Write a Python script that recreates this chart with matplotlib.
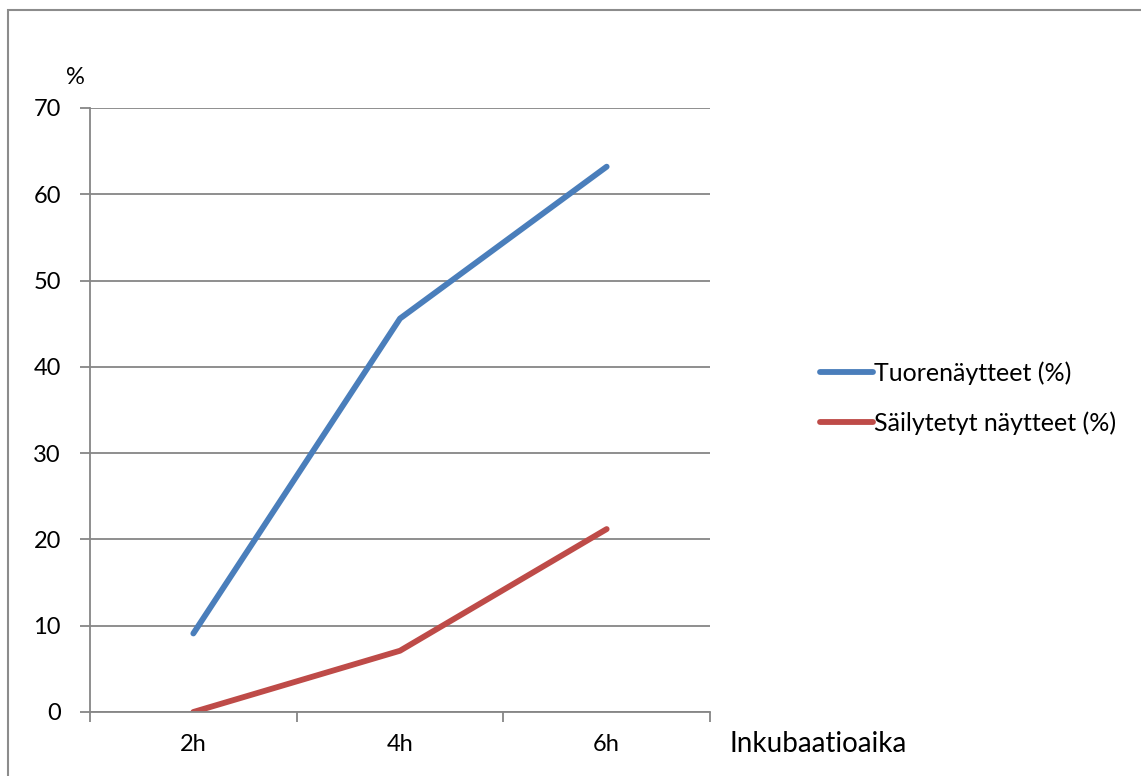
import matplotlib.pyplot as plt
from matplotlib.patches import Rectangle

plt.rcParams['font.family'] = ['Lato', 'DejaVu Sans']

times = ['2h', '4h', '6h']
fresh = [9.1, 45.6, 63.2]
stored = [0.0, 7.1, 21.2]

W, H = 1141, 776
fig = plt.figure(figsize=(W / 100, H / 100), dpi=100)

# outer chart frame
fig.patches.append(Rectangle((8 / W, -0.1), 1.2, (H - 10) / H + 0.1, transform=fig.transFigure,
                             fill=False, edgecolor='#8c8c8c', linewidth=1.5))

ax = fig.add_axes([90 / W, (H - 712) / H, 620 / W, 604 / H])
x = range(len(times))
ax.plot(x, fresh, color='#4a7ebb', linewidth=4.2, solid_capstyle='round', label='Tuorenäytteet (%)')
ax.plot(x, stored, color='#be4b48', linewidth=4.2, solid_capstyle='round', label='Säilytetyt näytteet (%)')

ax.set_xlim(-0.5, 2.5)
ax.set_ylim(0, 70)
ax.set_yticks(range(0, 71, 10))
ax.set_xticks(list(x))
ax.set_xticklabels(times)
ax.set_xticks([-0.5, 0.5, 1.5, 2.5], minor=True)
ax.tick_params(axis='x', which='major', length=0, pad=16, labelsize=17)
ax.tick_params(axis='x', which='minor', length=7, width=1.3, color='#868686')
ax.tick_params(axis='y', length=7, width=1.3, color='#868686', pad=14, labelsize=17)
ax.grid(axis='y', color='#868686', linewidth=1.3)
ax.set_axisbelow(True)
for s in ['top', 'right']:
    ax.spines[s].set_visible(False)
for s in ['left', 'bottom']:
    ax.spines[s].set_color('#868686')
    ax.spines[s].set_linewidth(1.3)

fig.text(75 / W, 1 - 78 / H, '%', fontsize=17, ha='center', va='center')
fig.text(729 / W, 1 - 744 / H, 'Inkubaatioaika', fontsize=20, ha='left', va='center')

fig.legend(loc='center left', bbox_to_anchor=(797 / W, 1 - 398 / H), frameon=False,
           fontsize=18, handlelength=2.15, handletextpad=0.05, labelspacing=1.05)

fig.savefig('out.png', dpi=100)
